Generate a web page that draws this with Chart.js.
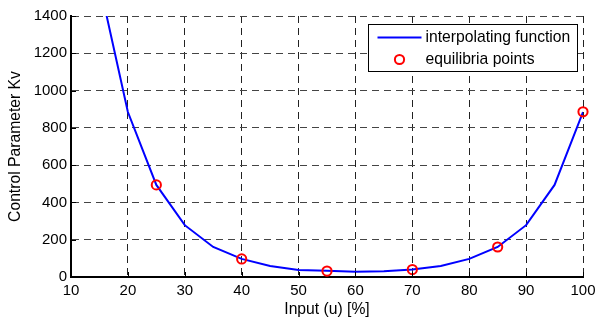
<!DOCTYPE html>
<html>
<head>
<meta charset="utf-8">
<script src="https://cdn.jsdelivr.net/npm/chart.js@4/dist/chart.umd.min.js"></script>
<style>
  html, body { margin: 0; padding: 0; background: #fff; }
  #wrap { width: 597px; height: 320px; }
</style>
</head>
<body>
<div id="wrap"><canvas id="c" width="597" height="320"></canvas></div>
<script>
// ---- data ----
const curveInput = [15, 20, 25, 30, 35, 40, 45, 50, 55, 60, 65, 70, 75, 80, 85, 90, 95, 100];
const curveKv    = [1575, 885, 494, 278, 161, 97, 59, 38, 33, 28, 31, 40, 59, 97, 161, 278, 494, 885];
const equilInput = [25, 40, 55, 70, 85, 100];
const equilKv    = [494, 97, 32, 40, 161, 886];
const xTicks = [10, 20, 30, 40, 50, 60, 70, 80, 90, 100];
const yTicks = [0, 200, 400, 600, 800, 1000, 1200, 1400];
const seriesLabels = ['interpolating function', 'equilibria points'];

const FONT = '"Liberation Sans", Arial, sans-serif';
const TICK_SIZE = 15;
const TEXT_SIZE = 15.7;

const toPts = (xs, ys) => xs.map((x, i) => ({ x: x, y: ys[i] }));

// inward tick marks on left & bottom axes (MATLAB style)
const inwardTicks = {
  id: 'inwardTicks',
  afterDatasetsDraw(chart) {
    const { ctx, chartArea, scales } = chart;
    ctx.save();
    ctx.strokeStyle = '#000';
    ctx.lineWidth = 1;
    ctx.beginPath();
    scales.x.ticks.forEach(t => {
      const px = Math.round(scales.x.getPixelForValue(t.value)) + 0.5;
      ctx.moveTo(px, chartArea.bottom);
      ctx.lineTo(px, chartArea.bottom - 5);
    });
    scales.y.ticks.forEach(t => {
      const py = Math.round(scales.y.getPixelForValue(t.value)) + 0.5;
      ctx.moveTo(chartArea.left, py);
      ctx.lineTo(chartArea.left + 5, py);
    });
    ctx.stroke();
    ctx.restore();
  }
};

// legend box drawn inside the plot area (top-right)
const innerLegend = {
  id: 'innerLegend',
  afterDraw(chart) {
    const { ctx, chartArea } = chart;
    const ds = chart.data.datasets;
    const w = 209, h = 47;
    const x0 = chartArea.right - 6 - w + 0.5;
    const y0 = chartArea.top + 8 + 0.5;
    ctx.save();
    ctx.fillStyle = '#fff';
    ctx.fillRect(x0, y0, w, h);
    ctx.strokeStyle = '#000';
    ctx.lineWidth = 1;
    ctx.strokeRect(x0, y0, w, h);
    ctx.font = TEXT_SIZE + 'px ' + FONT;
    ctx.textBaseline = 'middle';
    ctx.fillStyle = '#000';
    // line entry
    const r1 = y0 + 13;
    ctx.strokeStyle = ds[0].borderColor;
    ctx.lineWidth = ds[0].borderWidth;
    ctx.beginPath();
    ctx.moveTo(x0 + 9, r1);
    ctx.lineTo(x0 + 53, r1);
    ctx.stroke();
    ctx.fillText(ds[0].label, x0 + 57, r1);
    // marker entry
    const r2 = y0 + 35;
    ctx.strokeStyle = ds[1].pointBorderColor;
    ctx.lineWidth = ds[1].pointBorderWidth;
    ctx.beginPath();
    ctx.arc(x0 + 31, r2, ds[1].pointRadius, 0, Math.PI * 2);
    ctx.stroke();
    ctx.fillText(ds[1].label, x0 + 57, r2);
    ctx.restore();
  }
};

new Chart(document.getElementById('c'), {
  type: 'scatter',
  data: {
    datasets: [
      {
        label: seriesLabels[0],
        data: toPts(curveInput, curveKv),
        showLine: true,
        borderColor: '#0000ff',
        backgroundColor: '#0000ff',
        borderWidth: 2,
        pointRadius: 0,
        tension: 0,
        order: 1
      },
      {
        label: seriesLabels[1],
        data: toPts(equilInput, equilKv),
        showLine: false,
        pointRadius: 4.6,
        pointBorderWidth: 2,
        pointBorderColor: '#ff0000',
        pointBackgroundColor: 'rgba(0,0,0,0)',
        clip: false,
        order: 0
      }
    ]
  },
  options: {
    responsive: false,
    animation: false,
    devicePixelRatio: 1,
    layout: { padding: { left: 0, right: 14, top: 16, bottom: 0 } },
    plugins: { legend: { display: false }, tooltip: { enabled: false } },
    scales: {
      x: {
        type: 'linear',
        min: 10, max: 100,
        afterBuildTicks: s => { s.ticks = xTicks.map(v => ({ value: v })); },
        afterFit: s => { s.height = 43; s.paddingRight = 0; s.paddingLeft = 0; },
        ticks: { color: '#000', font: { family: FONT, size: TICK_SIZE }, padding: 5, maxRotation: 0,
                 callback: v => String(v) },
        grid: { color: '#222', lineWidth: 1, drawTicks: false },
        border: { display: true, color: '#000', width: 2, dash: [7, 5] },
        title: { display: true, text: 'Input (u) [%]', color: '#000',
                 font: { family: FONT, size: TEXT_SIZE }, padding: { top: 0, bottom: 1 } }
      },
      y: {
        type: 'linear',
        min: 0, max: 1400,
        afterBuildTicks: s => { s.ticks = yTicks.map(v => ({ value: v })); },
        afterFit: s => { s.width = 71; s.paddingTop = 0; s.paddingBottom = 0; },
        ticks: { color: '#000', font: { family: FONT, size: TICK_SIZE }, padding: 4,
                 callback: v => String(v) },
        grid: { color: '#444', lineWidth: 1, drawTicks: false },
        border: { display: true, color: '#000', width: 2, dash: [7, 5] },
        title: { display: true, text: 'Control Parameter Kv', color: '#000',
                 font: { family: FONT, size: TEXT_SIZE }, padding: { top: 6, bottom: 0 } }
      }
    }
  },
  plugins: [inwardTicks, innerLegend]
});
</script>
</body>
</html>
